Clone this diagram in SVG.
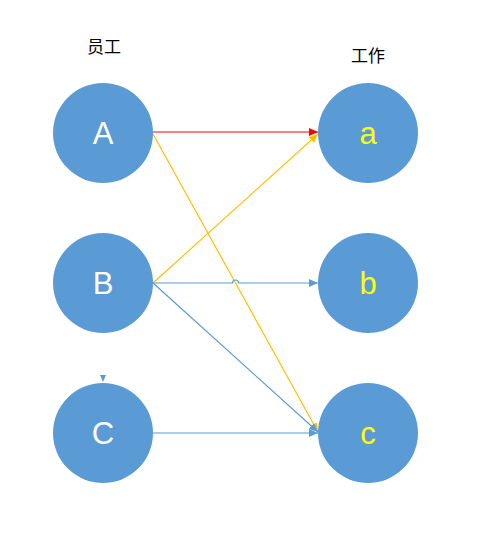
<svg xmlns="http://www.w3.org/2000/svg" width="478" height="533" viewBox="0 0 478 533">
<style>
.node{fill:#5B9BD5;}
.lt{font-family:"Liberation Sans",Arial,sans-serif;font-size:31px;text-anchor:middle;fill:#FFFFFF;}
.rt{font-family:"Liberation Sans",Arial,sans-serif;font-size:31px;text-anchor:middle;fill:#FFFF00;}
.title{font-family:"Noto Sans CJK SC",sans-serif;font-size:17px;text-anchor:middle;fill:#000000;}
.red{stroke:#FF0000;stroke-width:1.2;fill:none;}
.yel{stroke:#FFC000;stroke-width:1.2;fill:none;}
.blu{stroke:#5B9BD5;stroke-width:1.2;fill:none;}
</style>
<defs>
<marker id="mr" markerWidth="10" markerHeight="8" refX="9" refY="4" orient="auto" markerUnits="userSpaceOnUse"><path d="M0,0 L9,4 L0,8 Z" fill="#FF0000"/></marker>
<marker id="my" markerWidth="10" markerHeight="8" refX="9" refY="4" orient="auto" markerUnits="userSpaceOnUse"><path d="M0,0 L9,4 L0,8 Z" fill="#FFC000"/></marker>
<marker id="mb" markerWidth="10" markerHeight="8" refX="9" refY="4" orient="auto" markerUnits="userSpaceOnUse"><path d="M0,0 L9,4 L0,8 Z" fill="#5B9BD5"/></marker>
</defs>
<text class="title" x="104" y="53">员工</text>
<text class="title" x="368" y="62">工作</text>
<g id="connectors">
<line class="red" x1="153" y1="132" x2="318" y2="132" marker-end="url(#mr)"/>
<line class="yel" x1="153" y1="134" x2="318" y2="432" marker-end="url(#my)"/>
<line class="yel" x1="153" y1="283" x2="318" y2="134" marker-end="url(#my)"/>
<path class="blu" d="M153,283 L232.5,283 A3,3 0 0 1 238.5,283 L318,283" marker-end="url(#mb)"/>
<line class="blu" x1="153" y1="283" x2="318" y2="432" marker-end="url(#mb)"/>
<line class="blu" x1="153" y1="433" x2="318" y2="433" marker-end="url(#mb)"/>
<path d="M100,375 L106,375 L103,382 Z" fill="#5B9BD5"/>
</g>
<g id="node-A"><circle class="node" cx="103" cy="133" r="50"/><text class="lt" x="103" y="144">A</text></g>
<g id="node-B"><circle class="node" cx="103" cy="283" r="50"/><text class="lt" x="103" y="294">B</text></g>
<g id="node-C"><circle class="node" cx="103" cy="433" r="50"/><text class="lt" x="103" y="444">C</text></g>
<g id="node-a"><circle class="node" cx="368" cy="133" r="50"/><text class="rt" x="368" y="144">a</text></g>
<g id="node-b"><circle class="node" cx="368" cy="283" r="50"/><text class="rt" x="368" y="294">b</text></g>
<g id="node-c"><circle class="node" cx="368" cy="433" r="50"/><text class="rt" x="368" y="444">c</text></g>
</svg>
